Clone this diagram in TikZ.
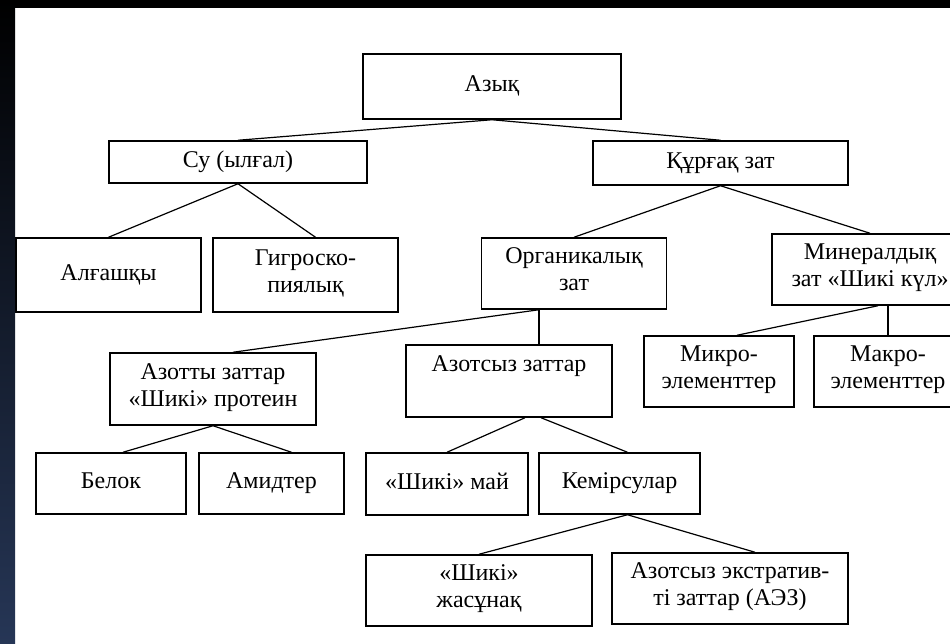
\documentclass[tikz,border=0pt]{standalone}
\usepackage{fontspec}
\setmainfont{Liberation Serif}
\definecolor{stripblue}{RGB}{38,54,86}

\begin{document}
\begin{tikzpicture}[
			x=1pt, y=-1pt,
			every node/.style={align=center, inner sep=0pt, font=\fontsize{24}{27}\selectfont,
				execute at begin node=\strut, execute at end node=\strut},
			block/.style 2 args={draw, line width=1.5pt, minimum width=#1, minimum height=#2},
			link/.style={line width=1.2pt}
			]
			
			\clip (0,0) rectangle (950,644);
			\fill[black] (0,0) rectangle (950,644);
			\fill[white] (15,8) rectangle (950,644);
			\shade[top color=black, bottom color=stripblue] (0,0) rectangle (15,644);
			
			\node[block={258}{65}] (azyq) at (492,86.5) {Азық};
			\node[block={258}{42}] (su) at (238,162) {Су (ылғал)};
			\node[block={255}{44}] (kurgak) at (720.5,163) {Құрғақ зат};
			
			\node[block={185}{74}] (algashky) at (108.5,275) {Алғашқы};
			\node[block={185}{74}] (gigro) at (305.5,275) {Гигроско-\\пиялық};
			\node[block={185}{71}] (organ) at (574,273.5) {Органикалық\\зат};
			\node[block={196}{71}] (mineral) at (870,269.5) {Минералдық\\зат «Шикі күл»};
			
			\node[block={206}{72}] (azotty) at (213,389) {Азотты заттар\\«Шикі» протеин};
			\node[block={206}{72}] (azotsyz) at (509,381) {Азотсыз заттар\\~};
			\node[block={150}{71}] (mikro) at (719,371.5) {Микро-\\элементтер};
			\node[block={148}{71}] (makro) at (888,371.5) {Макро-\\элементтер};
			
			\node[block={150}{61}] (belok) at (111,483.5) {Белок};
			\node[block={145}{61}] (amid) at (271.5,483.5) {Амидтер};
			\node[block={162}{62}] (may) at (447,484) {«Шикі» май};
			\node[block={161}{61}] (kemir) at (619.5,483.5) {Кемірсулар};
			
			\node[block={226}{71}] (zhasunak) at (479,590.5) {«Шикі»\\жасұнақ};
			\node[block={236}{71}] (aez) at (730,588.5) {Азотсыз экстратив-\\ті заттар (АЭЗ)};
			
			\draw[link] (azyq.south) -- (su.north);
			\draw[link] (azyq.south) -- (kurgak.north);
			\draw[link] (su.south) -- (algashky.north);
			\draw[link] (su.south) -- ([xshift=10]gigro.north);
			\draw[link] (kurgak.south) -- (organ.north);
			\draw[link] (kurgak.south) -- (mineral.north);
			\draw[link] ([xshift=-35]organ.south) -- ([xshift=20]azotty.north);
			\draw[link] ([xshift=-35]organ.south) -- ([xshift=30]azotsyz.north);
			\draw[link] ([xshift=8]mineral.south) -- ([xshift=18]mikro.north);
			\draw[link] ([xshift=18]mineral.south) -- (makro.north);
			\draw[link] (azotty.south) -- ([xshift=12]belok.north);
			\draw[link] (azotty.south) -- ([xshift=20]amid.north);
			\draw[link] ([xshift=16]azotsyz.south) -- (may.north);
			\draw[link] ([xshift=32]azotsyz.south) -- ([xshift=8]kemir.north);
			\draw[link] ([xshift=8]kemir.south) -- (zhasunak.north);
			\draw[link] ([xshift=8]kemir.south) -- ([xshift=25]aez.north);
			
			\end{tikzpicture}
\end{document}
